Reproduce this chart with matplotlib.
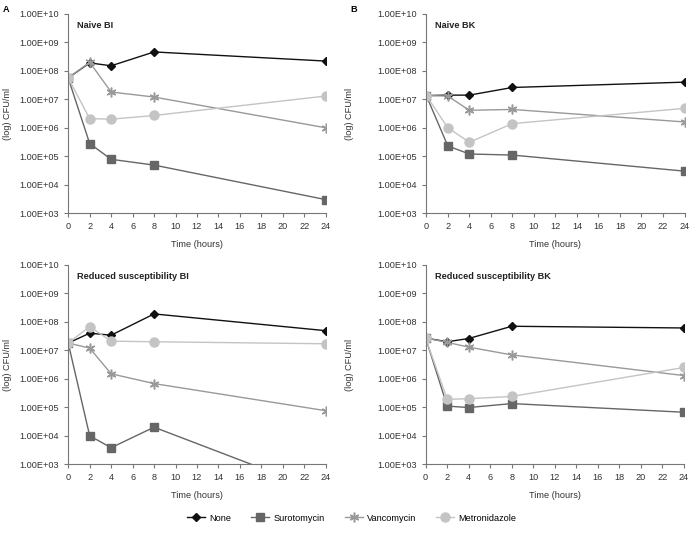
import numpy as np
import matplotlib
matplotlib.use("Agg")
import matplotlib.pyplot as plt
from matplotlib.ticker import FixedLocator, FuncFormatter, NullLocator

plt.rcParams['font.family'] = ['Liberation Sans', 'DejaVu Sans']

# time points (hours)
hours = [0, 2, 4, 8, 24]
treatments = ["None", "Surotomycin", "Vancomycin", "Metronidazole"]

# CFU/ml
naive_bi = {
    "None": [5.6e7, 1.9e8, 1.5e8, 4.6e8, 2.2e8],
    "Surotomycin": [5.6e7, 2.8e5, 7.8e4, 4.9e4, 3.0e3],
    "Vancomycin": [5.6e7, 2.0e8, 1.8e7, 1.2e7, 1.0e6],
    "Metronidazole": [5.6e7, 2.1e6, 2.0e6, 2.7e6, 1.3e7],
}
naive_bk = {
    "None": [1.35e7, 1.4e7, 1.4e7, 2.6e7, 4.0e7],
    "Surotomycin": [1.35e7, 2.3e5, 1.2e5, 1.1e5, 3.0e4],
    "Vancomycin": [1.35e7, 1.3e7, 4.1e6, 4.4e6, 1.6e6],
    "Metronidazole": [1.35e7, 1.0e6, 3.1e5, 1.4e6, 4.8e6],
}
reduced_bi = {
    "None": [1.8e7, 4.0e7, 3.4e7, 1.9e8, 4.9e7],
    "Surotomycin": [1.8e7, 1.0e4, 3.8e3, 2.0e4, 1.0e2],
    "Vancomycin": [1.8e7, 1.2e7, 1.5e6, 6.8e5, 7.6e4],
    "Metronidazole": [1.8e7, 6.8e7, 2.1e7, 2.0e7, 1.7e7],
}
reduced_bk = {
    "None": [2.7e7, 2.0e7, 2.6e7, 7.0e7, 6.1e7],
    "Surotomycin": [2.7e7, 1.1e5, 9.8e4, 1.35e5, 6.7e4],
    "Vancomycin": [2.7e7, 1.9e7, 1.3e7, 6.9e6, 1.3e6],
    "Metronidazole": [2.7e7, 1.9e5, 2.0e5, 2.4e5, 2.5e6],
}

panels = [
    ("A", "Naive BI", naive_bi, [0.098, 0.600, 0.370, 0.374]),
    ("B", "Naive BK", naive_bk, [0.6125, 0.600, 0.371, 0.374]),
    ("", "Reduced susceptibility BI", reduced_bi, [0.098, 0.129, 0.370, 0.374]),
    ("", "Reduced susceptibility BK", reduced_bk, [0.6116, 0.129, 0.371, 0.374]),
]

styles = {
    "None": dict(color="#111111", marker="D", markersize=4.5),
    "Surotomycin": dict(color="#666666", marker="s", markersize=6),
    "Vancomycin": dict(color="#999999", marker=(6, 2, 0), markersize=7, markeredgewidth=1.1),
    "Metronidazole": dict(color="#c4c4c4", marker="o", markersize=6.5),
}

fig = plt.figure(figsize=(6.96, 5.33), dpi=100)
fs = 6.6
handles = []

for letter, title, data, pos in panels:
    ax = fig.add_axes(pos)
    handles = []
    for t in treatments:
        h, = ax.plot(hours, data[t], lw=1.0, label=t, **styles[t])
        handles.append(h)
    ax.set_yscale("log")
    ax.set_ylim(1e3, 1e10)
    ax.set_xlim(0, 24)
    ax.set_xticks(range(0, 25, 2))
    ax.yaxis.set_major_locator(FixedLocator([10.0 ** k for k in range(3, 11)]))
    ax.yaxis.set_minor_locator(NullLocator())
    ax.yaxis.set_major_formatter(FuncFormatter(lambda v, p: "1.00E+%02d" % round(np.log10(v))))
    for s in ["top", "right"]:
        ax.spines[s].set_visible(False)
    for s in ["left", "bottom"]:
        ax.spines[s].set_color("#777777")
        ax.spines[s].set_linewidth(0.8)
    ax.tick_params(labelsize=fs, colors="#777777", labelcolor="#333333", length=3, width=0.8)
    ax.set_xlabel("Time (hours)", fontsize=fs, color="#333333", labelpad=6)
    ax.set_ylabel("(log) CFU/ml", fontsize=fs, color="#333333")
    left_px = pos[0] * 696
    label_x = 12 if pos[0] < 0.5 else 354
    ax.yaxis.set_label_coords((label_x - left_px) / (pos[2] * 696), 0.5)
    ax.text(0.035, 0.94, title, transform=ax.transAxes, fontsize=fs, fontweight="bold",
            color="#222222", va="center")
    if letter:
        fig.text(pos[0] - 0.094 if letter == "A" else pos[0] - 0.109, 0.99, letter,
                 fontsize=fs, fontweight="bold", va="top")

fig.legend(handles=handles, loc="center", bbox_to_anchor=(0.505, 0.028), ncol=4,
           frameon=False, fontsize=fs, handlelength=2.0, columnspacing=2.2, handletextpad=0.4)

fig.savefig("out.png", dpi=100)
